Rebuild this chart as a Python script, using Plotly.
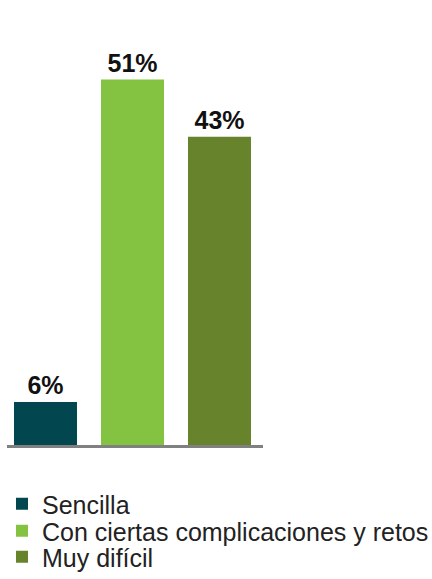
import plotly.graph_objects as go

categories = ["Sencilla", "Con ciertas complicaciones y retos", "Muy difícil"]
values = [6, 51, 43]
labels = ["6%", "51%", "43%"]
colors = ["#02464F", "#84C341", "#67832B"]

W, H = 432, 579

fig = go.Figure()
legend_ids = ["legend", "legend2", "legend3"]
for i, (cat, val, lab, col) in enumerate(zip(categories, values, labels, colors)):
    fig.add_trace(go.Bar(
        x=[i], y=[val], name=cat, text=[lab],
        textposition="outside",
        textfont=dict(family="Liberation Sans", size=25, color="#111111", weight="bold"),
        marker=dict(color=col, line=dict(width=0)),
        width=0.724, cliponaxis=False,
        legend=legend_ids[i], showlegend=True,
    ))

plot_left, plot_top, plot_bottom, plot_right = 7, 15, 445, 263
ph = plot_bottom - plot_top
pw = plot_right - plot_left
row_centers = [504, 531, 557]
leg_common = dict(font=dict(family="Liberation Sans", size=25, color="#222222"),
                  bgcolor="rgba(0,0,0,0)", borderwidth=0, xanchor="left", yanchor="middle",
                  x=(2 - plot_left) / pw, itemclick=False)
layout_legends = {}
for lid, rc in zip(legend_ids, row_centers):
    layout_legends[lid] = dict(leg_common, y=(plot_bottom - rc) / ph)

fig.update_layout(
    width=W, height=H,
    margin=dict(l=plot_left, r=W - plot_right, t=plot_top, b=H - plot_bottom, pad=0, autoexpand=False),
    paper_bgcolor="white", plot_bgcolor="white",
    barmode="overlay",
    xaxis=dict(range=[(plot_left - 45.5) / 87, 2.5], showticklabels=False, ticks="", showgrid=False,
               zeroline=False, showline=True, linecolor="#808080", linewidth=2.5),
    yaxis=dict(range=[0, 60], visible=False, showgrid=False, zeroline=False),
    **layout_legends,
)
fig.write_html("out.html", config={"displayModeBar": False},
               post_script="document.body.style.margin='0';document.body.style.overflow='hidden';")
